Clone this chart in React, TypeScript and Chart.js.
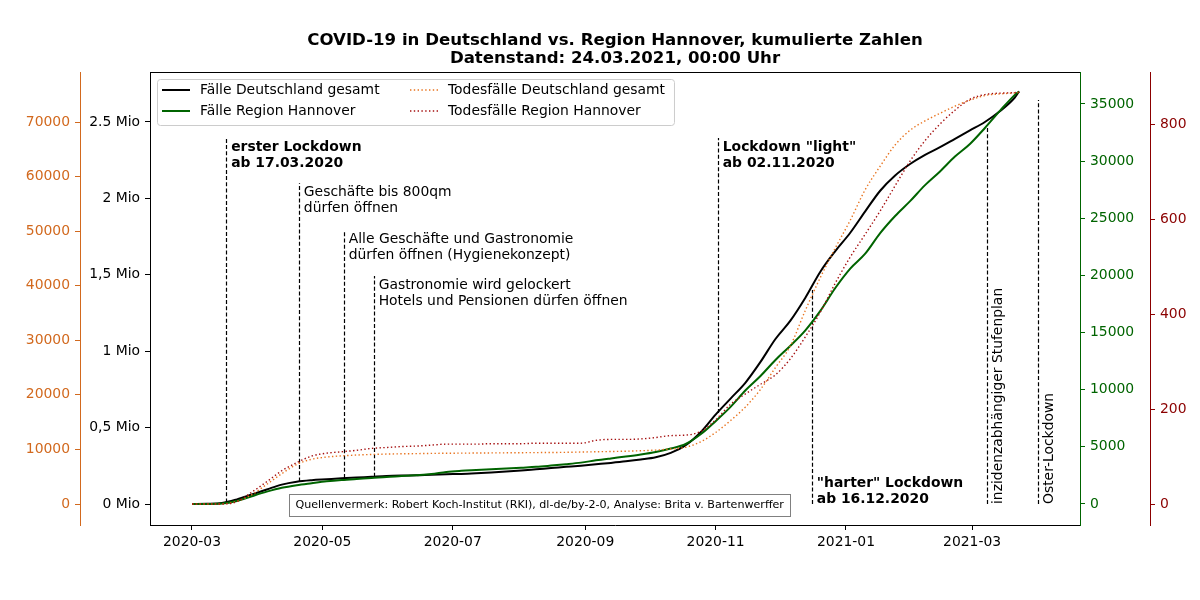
import { useEffect, useRef } from "react"
import { Chart, registerables } from "chart.js"

Chart.register(...registerables)

// Kumulierte Wochenwerte
const dates = [
  "2020-03-01", "2020-03-08", "2020-03-15", "2020-03-22", "2020-03-29",
  "2020-04-05", "2020-04-12", "2020-04-19", "2020-04-26",
  "2020-05-03", "2020-05-10", "2020-05-17", "2020-05-24", "2020-05-31",
  "2020-06-07", "2020-06-14", "2020-06-21", "2020-06-28",
  "2020-07-05", "2020-07-12", "2020-07-19", "2020-07-26",
  "2020-08-02", "2020-08-09", "2020-08-16", "2020-08-23", "2020-08-30",
  "2020-09-06", "2020-09-13", "2020-09-20", "2020-09-27",
  "2020-10-04", "2020-10-11", "2020-10-18", "2020-10-25",
  "2020-11-01", "2020-11-08", "2020-11-15", "2020-11-22", "2020-11-29",
  "2020-12-06", "2020-12-13", "2020-12-20", "2020-12-27",
  "2021-01-03", "2021-01-10", "2021-01-17", "2021-01-24", "2021-01-31",
  "2021-02-07", "2021-02-14", "2021-02-21", "2021-02-28",
  "2021-03-07", "2021-03-14", "2021-03-21", "2021-03-23",
]

// Fälle Deutschland gesamt, in Mio
const casesGermany = [
  0.000, 0.001, 0.006, 0.030, 0.062,
  0.095, 0.127, 0.146, 0.156,
  0.162, 0.168, 0.173, 0.178, 0.183,
  0.186, 0.188, 0.192, 0.195,
  0.197, 0.201, 0.206, 0.212,
  0.219, 0.227, 0.235, 0.243, 0.251,
  0.260, 0.269, 0.279, 0.291,
  0.306, 0.335, 0.385, 0.470,
  0.585, 0.690, 0.795, 0.930, 1.080,
  1.200, 1.350, 1.520, 1.655,
  1.775, 1.915, 2.050, 2.150, 2.225,
  2.285, 2.335, 2.390, 2.445,
  2.500, 2.570, 2.660, 2.700,
]

// Fälle Region Hannover
const casesHannover = [
  0, 5, 40, 260, 680,
  1080, 1420, 1650, 1820,
  1980, 2100, 2190, 2270, 2370,
  2440, 2520, 2620, 2800,
  2900, 2970, 3040, 3110,
  3180, 3250, 3360, 3480, 3620,
  3820, 3990, 4150, 4330,
  4550, 4850, 5250, 6100,
  7250, 8500, 9950, 11200, 12600,
  13850, 15200, 16900, 18900,
  20600, 21900, 23700, 25200, 26500,
  27900, 29100, 30400, 31500,
  32900, 34400, 35800, 36100,
]

// Todesfälle Deutschland gesamt
const deathsGermany = [
  0, 0, 20, 500, 1700,
  3600, 5550, 7250, 8200,
  8600, 8820, 8970, 9080, 9150,
  9200, 9230, 9270, 9300,
  9320, 9340, 9360, 9380,
  9400, 9420, 9440, 9470, 9520,
  9570, 9620, 9680, 9760,
  9880, 10080, 10400, 11400,
  13100, 15300, 17800, 21000, 25000,
  29000, 35500, 41500, 46900,
  52000, 57600, 61900, 65800, 68500,
  70200, 71600, 72900, 74000,
  74850, 75150, 75340, 75400,
]

// Todesfälle Region Hannover
const deathsHannover = [
  0, 0, 0, 5, 25,
  47, 70, 87, 101,
  107, 110, 113, 117, 119,
  121, 122, 124, 126,
  126, 126, 127, 127,
  127, 128, 128, 128, 128,
  134, 136, 136, 137,
  140, 144, 145, 153,
  177, 210, 232, 252, 272,
  306, 352, 404, 465,
  520, 568, 617, 670, 722,
  765, 800, 829, 852,
  862, 865, 866, 867,
]

const seriesLabels = [
  "Fälle Deutschland gesamt",
  "Fälle Region Hannover",
  "Todesfälle Deutschland gesamt",
  "Todesfälle Region Hannover",
]

// Ereignisse: Datum, senkrechte Linie von/bis (in Mio Fälle), Beschriftung
const eventDates = [
  "2020-03-17", "2020-04-20", "2020-05-11", "2020-05-25",
  "2020-11-02", "2020-12-16", "2021-03-08", "2021-04-01",
]
const eventFrom = [0.01, 0.148, 0.17, 0.178, 0.596, 0, 0, 0]
const eventTo = [2.395, 2.10, 1.793, 1.492, 2.395, 1.40, 2.47, 2.644]
const eventLabels = [
  ["erster Lockdown", "ab 17.03.2020"],
  ["Geschäfte bis 800qm", "dürfen öffnen"],
  ["Alle Geschäfte und Gastronomie", "dürfen öffnen (Hygienekonzept)"],
  ["Gastronomie wird gelockert", "Hotels und Pensionen dürfen öffnen"],
  ["Lockdown \"light\"", "ab 02.11.2020"],
  ["\"harter\" Lockdown", "ab 16.12.2020"],
  ["inzidenzabhängiger Stufenplan"],
  ["Oster-Lockdown"],
]

const xTickMonths = ["2020-03", "2020-05", "2020-07", "2020-09", "2020-11", "2021-01", "2021-03"]
const caseTicks = [0, 0.5, 1, 1.5, 2, 2.5]
const caseTickLabels = ["0 Mio", "0,5 Mio", "1 Mio", "1,5 Mio", "2 Mio", "2.5 Mio"]
const deathsGermanyTicks = [0, 10000, 20000, 30000, 40000, 50000, 60000, 70000]
const casesHannoverTicks = [0, 5000, 10000, 15000, 20000, 25000, 30000, 35000]
const deathsHannoverTicks = [0, 200, 400, 600, 800]

const title = ["COVID-19 in Deutschland vs. Region Hannover, kumulierte Zahlen", "Datenstand: 24.03.2021, 00:00 Uhr"]
const source = "Quellenvermerk: Robert Koch-Institut (RKI), dl-de/by-2-0, Analyse: Brita v. Bartenwerffer"

const FONT = "DejaVu Sans"
const BLACK = "#000000"
const GREEN = "#006400"
const ORANGE = "#e8731e"
const ORANGE_AXIS = "#d2691e"
const RED = "#a50f0f"
const RED_AXIS = "#8b0000"

const dayOf = (s: string) => {
  const [y, m, d] = s.split("-").map(Number)
  return (Date.UTC(y, m - 1, d || 1) - Date.UTC(2020, 2, 1)) / 86400000
}

const points = (values: number[]) => dates.map((d, i) => ({ x: dayOf(d), y: values[i] }))

function yAxis(
  color: string,
  position: "left" | "right",
  min: number,
  max: number,
  ticks: number[],
  width: number,
  weight: number,
  label?: (v: number) => string
) {
  return {
    type: "linear",
    position,
    min,
    max,
    weight,
    afterBuildTicks: (scale: any) => {
      scale.ticks = ticks.map((v) => ({ value: v }))
    },
    afterFit: (scale: any) => {
      scale.width = width
    },
    border: { display: true, color, width: 1 },
    grid: { display: true, drawOnChartArea: false, drawTicks: true, tickLength: 5, color, tickWidth: 1 },
    ticks: {
      color,
      padding: 5,
      autoSkip: false,
      font: { family: FONT, size: 13.9 },
      callback: (v: number) => (label ? label(v) : String(v)),
    },
  }
}

const decorations = {
  id: "decorations",
  beforeDatasetsDraw(chart: any) {
    const { ctx } = chart
    const x = chart.scales.x
    const y = chart.scales.yCases
    ctx.save()
    ctx.strokeStyle = BLACK
    ctx.lineWidth = 1.2
    ctx.setLineDash([4, 2.2])
    eventDates.forEach((d, i) => {
      const px = Math.round(x.getPixelForValue(dayOf(d))) + 0.5
      ctx.beginPath()
      ctx.moveTo(px, y.getPixelForValue(eventFrom[i]))
      ctx.lineTo(px, y.getPixelForValue(eventTo[i]))
      ctx.stroke()
    })
    ctx.restore()
  },
  afterDatasetsDraw(chart: any) {
    const { ctx } = chart
    const x = chart.scales.x
    const y = chart.scales.yCases
    const y0 = y.getPixelForValue(0)
    ctx.save()
    ctx.fillStyle = BLACK
    ctx.textBaseline = "middle"
    ctx.textAlign = "left"
    eventDates.forEach((d, i) => {
      const px = x.getPixelForValue(dayOf(d))
      const lines = eventLabels[i]
      const bold = i === 0 || i === 4 || i === 5
      ctx.font = `${bold ? "bold " : ""}13.9px ${FONT}`
      if (i === 6 || i === 7) {
        ctx.save()
        ctx.translate(px + 11, y0)
        ctx.rotate(-Math.PI / 2)
        ctx.fillText(lines[0], 0, 0)
        ctx.restore()
      } else if (i === 5) {
        ctx.fillText(lines[0], px + 5, y0 - 21)
        ctx.fillText(lines[1], px + 5, y0 - 5)
      } else {
        const top = y.getPixelForValue(eventTo[i])
        lines.forEach((t, k) => ctx.fillText(t, px + 5, top + 9 + k * 16))
      }
    })
    ctx.restore()
  },
  afterDraw(chart: any) {
    const { ctx, chartArea } = chart
    const { left, right, top, bottom } = chartArea
    ctx.save()

    // obere Rahmenlinie
    ctx.strokeStyle = BLACK
    ctx.lineWidth = 1
    ctx.beginPath()
    ctx.moveTo(left, top + 0.5)
    ctx.lineTo(right, top + 0.5)
    ctx.stroke()

    // Titel
    ctx.fillStyle = BLACK
    ctx.font = `bold 16.6px ${FONT}`
    ctx.textAlign = "center"
    ctx.textBaseline = "middle"
    const cx = (left + right) / 2
    ctx.fillText(title[0], cx, 41)
    ctx.fillText(title[1], cx, 59)

    // Legende
    ctx.font = `13.9px ${FONT}`
    ctx.textAlign = "left"
    const ds = chart.data.datasets
    const bx = left + 7
    const by = top + 7
    const col2 = 255
    const w2 = Math.max(ctx.measureText(ds[2].label).width, ctx.measureText(ds[3].label).width)
    const bw = col2 + 38 + w2 + 7
    ctx.fillStyle = "rgba(255,255,255,0.8)"
    ctx.strokeStyle = "#cccccc"
    ctx.beginPath()
    ctx.roundRect(bx + 0.5, by + 0.5, bw, 46, 3)
    ctx.fill()
    ctx.stroke()
    ds.forEach((d: any, i: number) => {
      const cxo = i < 2 ? 5 : col2 - 2
      const ry = by + 11 + (i % 2) * 21
      ctx.save()
      ctx.strokeStyle = d.borderColor
      ctx.lineWidth = d.borderWidth
      ctx.setLineDash(d.borderDash || [])
      ctx.beginPath()
      ctx.moveTo(bx + cxo, ry)
      ctx.lineTo(bx + cxo + 28, ry)
      ctx.stroke()
      ctx.restore()
      ctx.fillStyle = BLACK
      ctx.fillText(d.label, bx + cxo + 38, ry)
    })

    // Quellenvermerk
    ctx.font = `11.1px ${FONT}`
    const tw = ctx.measureText(source).width
    const sx = left + 0.419 * (right - left)
    const sy = top + 0.956 * (bottom - top)
    ctx.fillStyle = "#ffffff"
    ctx.strokeStyle = "#808080"
    ctx.fillRect(sx - tw / 2 - 6, sy - 11, tw + 12, 22)
    ctx.strokeRect(Math.round(sx - tw / 2 - 6) + 0.5, Math.round(sy - 11) + 0.5, Math.round(tw + 12), 22)
    ctx.fillStyle = BLACK
    ctx.textAlign = "center"
    ctx.fillText(source, sx, sy)
    ctx.restore()
  },
}

function CovidChart() {
  const chartRef = useRef<HTMLCanvasElement | null>(null)
  const chartInstance = useRef<Chart | null>(null)

  useEffect(() => {
    document.body.style.margin = "0"
    if (!chartRef.current) return
    if (chartInstance.current) chartInstance.current.destroy()
    const ctx = chartRef.current.getContext("2d")
    if (!ctx) return

    const xTicks = xTickMonths.map((m) => dayOf(m + "-01"))

    chartInstance.current = new Chart(ctx, {
      type: "line",
      data: {
        datasets: [
          {
            label: seriesLabels[0],
            data: points(casesGermany),
            yAxisID: "yCases",
            borderColor: BLACK,
            borderWidth: 2,
            order: 4,
          },
          {
            label: seriesLabels[1],
            data: points(casesHannover),
            yAxisID: "yHannover",
            borderColor: GREEN,
            borderWidth: 2,
            order: 3,
          },
          {
            label: seriesLabels[2],
            data: points(deathsGermany),
            yAxisID: "yDeaths",
            borderColor: ORANGE,
            borderWidth: 1.4,
            borderDash: [1.4, 2.4],
            order: 2,
          },
          {
            label: seriesLabels[3],
            data: points(deathsHannover),
            yAxisID: "yDeathsHannover",
            borderColor: RED,
            borderWidth: 1.4,
            borderDash: [1.4, 2.4],
            order: 1,
          },
        ] as any,
      },
      options: {
        animation: false,
        responsive: false,
        events: [],
        layout: { padding: { top: 72, left: 0, right: 0, bottom: 0 } },
        elements: {
          point: { radius: 0 },
          line: { cubicInterpolationMode: "monotone", fill: false },
        },
        plugins: {
          legend: { display: false },
          tooltip: { enabled: false },
          title: { display: false },
        },
        scales: {
          x: {
            type: "linear",
            position: "bottom",
            min: -19.65,
            max: 415.5,
            afterBuildTicks: (scale: any) => {
              scale.ticks = xTicks.map((v) => ({ value: v }))
            },
            afterFit: (scale: any) => {
              scale.height = 75
            },
            border: { display: true, color: BLACK, width: 1 },
            grid: { display: true, drawOnChartArea: false, drawTicks: true, tickLength: 5, color: BLACK },
            ticks: {
              color: BLACK,
              padding: 4,
              autoSkip: false,
              maxRotation: 0,
              font: { family: FONT, size: 13.9 },
              callback: (v: number) => xTickMonths[xTicks.indexOf(v)] ?? "",
            },
          },
          yCases: yAxis(BLACK, "left", -0.1374, 2.827, caseTicks, 70, 1, (v) => caseTickLabels[caseTicks.indexOf(v)] ?? ""),
          yDeaths: yAxis(ORANGE_AXIS, "left", -3848, 79164, deathsGermanyTicks, 80, 2),
          yHannover: yAxis(GREEN, "right", -1838, 37800, casesHannoverTicks, 70, 1),
          yDeathsHannover: yAxis(RED_AXIS, "right", -44.2, 909.5, deathsHannoverTicks, 50, 2),
        } as any,
      },
      plugins: [decorations],
    })

    return () => {
      if (chartInstance.current) {
        chartInstance.current.destroy()
        chartInstance.current = null
      }
    }
  }, [])

  return (
    <div style={{ width: 1200, height: 600 }}>
      <canvas ref={chartRef} width={1200} height={600} />
    </div>
  )
}

export default function App() {
  return <CovidChart />
}
